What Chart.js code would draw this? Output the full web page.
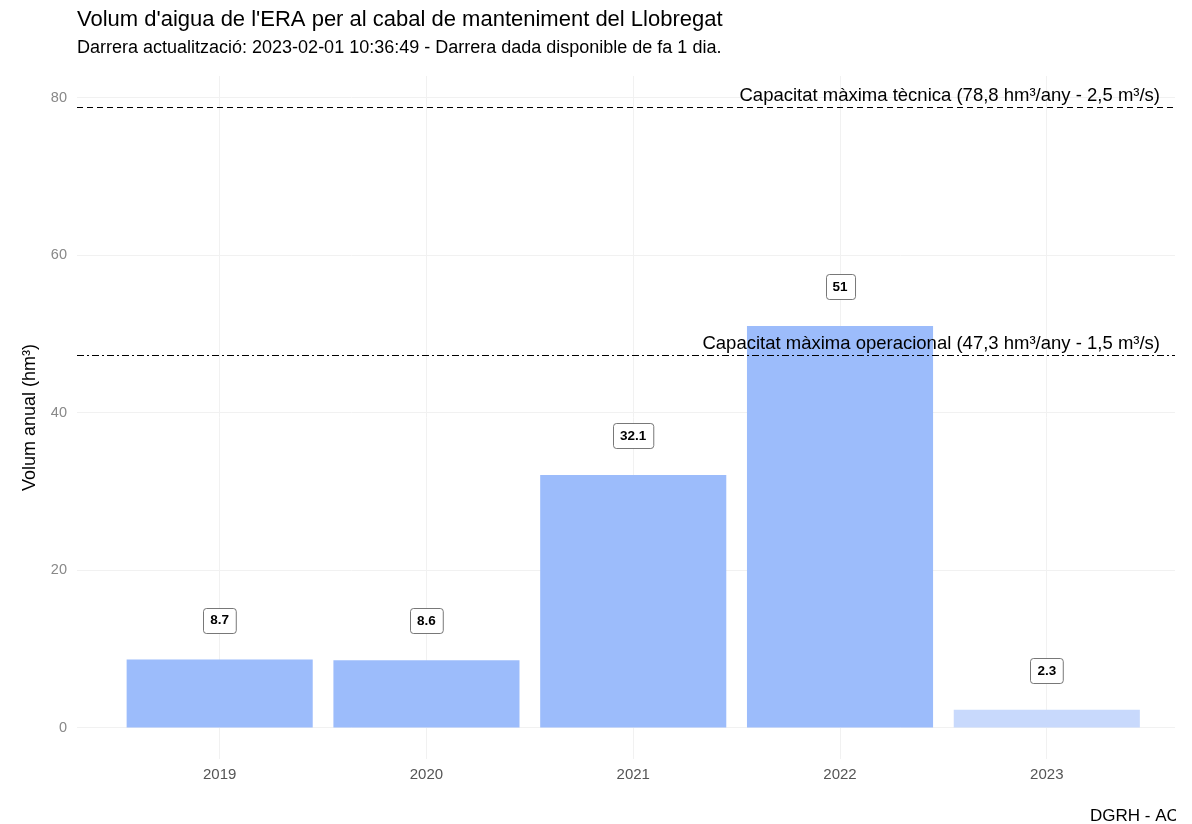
<!DOCTYPE html>
<html>
<head>
<meta charset="utf-8">
<script src="https://cdn.jsdelivr.net/npm/chart.js@4.4.1/dist/chart.umd.min.js"></script>
<style>
html,body{margin:0;padding:0;background:#fff;}
#wrap{width:1192px;height:824px;position:relative;}
</style>
</head>
<body>
<div id="wrap"><canvas id="c" width="1192" height="824"></canvas></div>
<script>
// ---- data ----
const years = [2019, 2020, 2021, 2022, 2023];
const volumes = [8.7, 8.6, 32.1, 51, 2.3];
const valueLabels = ['8.7', '8.6', '32.1', '51', '2.3'];
const yTicks = [0, 20, 40, 60, 80];
const refValues = [78.8, 47.3];
const refLabels = [
  'Capacitat màxima tècnica (78,8 hm³/any - 2,5 m³/s)',
  'Capacitat màxima operacional (47,3 hm³/any - 1,5 m³/s)'
];
const titleText = "Volum d'aigua de l'ERA per al cabal de manteniment del Llobregat";
const subtitleText = 'Darrera actualització: 2023-02-01 10:36:49 - Darrera dada disponible de fa 1 dia.';
const yTitle = 'Volum anual (hm³)';
const captionText = 'DGRH - ACA';

// ---- styles ----
const FONT = '"Liberation Sans", Arial, sans-serif';
const barColors = years.map(y => y === 2023 ? '#c8d9fc' : '#9cbcfb');
const refDashes = [[6, 4], [7, 3, 2, 3]];
const labelOffset = 5; // data units above bar

const overlay = {
  id: 'overlay',
  afterDatasetsDraw(chart) {
    const ctx = chart.ctx;
    const {left, right} = chart.chartArea;
    const ys = chart.scales.y;
    const xs = chart.scales.x;
    refValues.forEach((v, i) => {
      const py = Math.round(ys.getPixelForValue(v)) + 0.5;
      ctx.save();
      ctx.strokeStyle = '#000';
      ctx.lineWidth = 1.1;
      ctx.setLineDash(refDashes[i]);
      ctx.beginPath();
      ctx.moveTo(left, py);
      ctx.lineTo(right, py);
      ctx.stroke();
      ctx.restore();
      ctx.save();
      ctx.fillStyle = '#000';
      ctx.font = '18.5px ' + FONT;
      ctx.textAlign = 'right';
      ctx.textBaseline = 'alphabetic';
      ctx.fillText(refLabels[i], right - 15, py - 7);
      ctx.restore();
    });
    years.forEach((yr, i) => {
      const px = xs.getPixelForValue(yr);
      const py = ys.getPixelForValue(volumes[i] + labelOffset);
      ctx.save();
      ctx.font = 'bold 13.5px ' + FONT;
      const w = ctx.measureText(valueLabels[i]).width + 14;
      const h = 25;
      const x0 = Math.round(px - w / 2) + 0.5, y0 = Math.round(py - h / 2) + 0.5;
      ctx.fillStyle = '#fff';
      ctx.strokeStyle = '#555';
      ctx.lineWidth = 0.8;
      ctx.beginPath();
      ctx.roundRect(x0, y0, w, h, 3);
      ctx.fill();
      ctx.stroke();
      ctx.fillStyle = '#000';
      ctx.textAlign = 'center';
      ctx.textBaseline = 'middle';
      ctx.fillText(valueLabels[i], px, py + 0.5);
      ctx.restore();
    });
  },
  afterDraw(chart) {
    const ctx = chart.ctx;
    const left = chart.chartArea.left;
    ctx.save();
    ctx.fillStyle = '#000';
    ctx.textAlign = 'left';
    ctx.textBaseline = 'alphabetic';
    ctx.font = '22px ' + FONT;
    ctx.fillText(titleText, left, 26);
    ctx.font = '18px ' + FONT;
    ctx.fillText(subtitleText, left, 53);
    ctx.beginPath();
    ctx.rect(0, 780, 1176, 44);
    ctx.clip();
    ctx.font = '17px ' + FONT;
    ctx.fillText(captionText, 1090, 821);
    ctx.restore();
  }
};

new Chart(document.getElementById('c'), {
  type: 'bar',
  data: {
    datasets: [{
      data: years.map((y, i) => ({x: y, y: volumes[i]})),
      backgroundColor: barColors,
      borderWidth: 0,
      barPercentage: 1,
      categoryPercentage: 0.9
    }]
  },
  options: {
    responsive: false,
    animation: false,
    devicePixelRatio: 1,
    layout: {padding: {top: 76, right: 17, bottom: 33, left: 0}},
    plugins: {legend: {display: false}, tooltip: {enabled: false}, title: {display: false}},
    scales: {
      x: {
        type: 'linear',
        min: 2018.31,
        max: 2023.62,
        offset: false,
        afterBuildTicks(s) { s.ticks = years.map(v => ({value: v})); },
        ticks: {
          callback: v => String(v),
          color: '#555',
          font: {family: FONT, size: 15},
          padding: 7,
          maxRotation: 0
        },
        grid: {color: '#f1f1f1', lineWidth: 1, drawTicks: false, offset: false},
        border: {display: false}
      },
      y: {
        type: 'linear',
        min: -3.94,
        max: 82.74,
        afterBuildTicks(s) { s.ticks = yTicks.map(v => ({value: v})); },
        afterFit(s) { s.width = 77; },
        ticks: {
          color: '#888',
          font: {family: FONT, size: 14.5},
          padding: 10
        },
        title: {
          display: true,
          text: yTitle,
          color: '#000',
          font: {family: FONT, size: 18},
          padding: {top: 19, bottom: 10}
        },
        grid: {color: '#f1f1f1', lineWidth: 1, drawTicks: false},
        border: {display: false}
      }
    }
  },
  plugins: [overlay]
});
</script>
</body>
</html>
